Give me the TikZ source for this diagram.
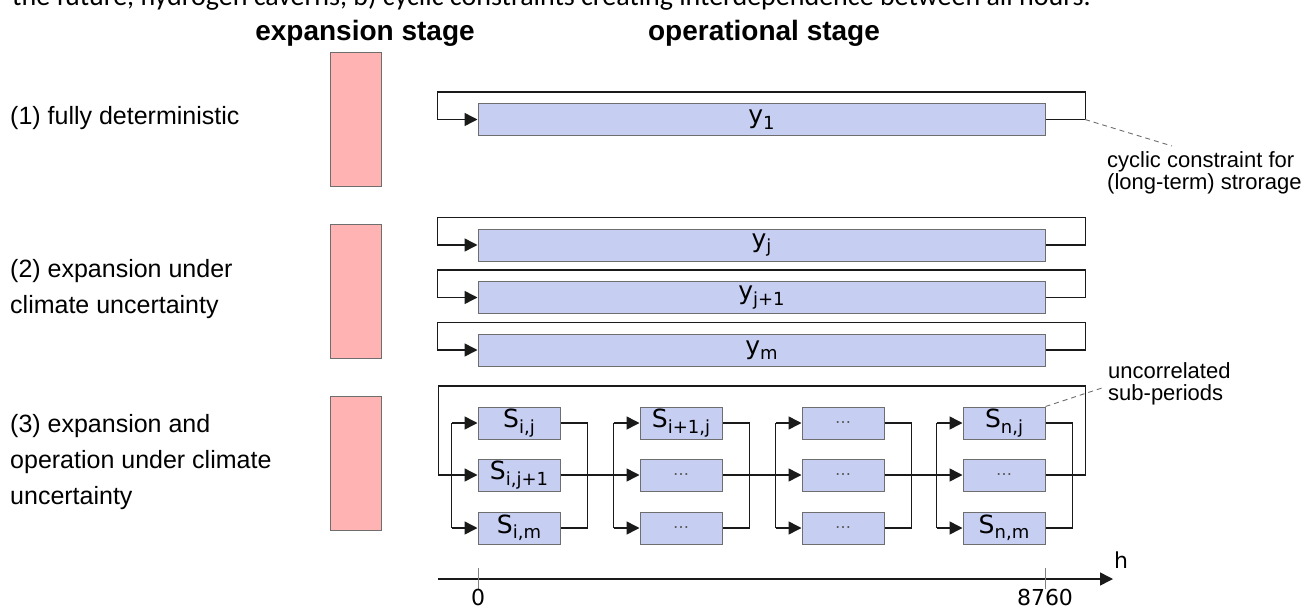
\documentclass[tikz,border=0pt]{standalone}
\usepackage{fontspec}
\setmainfont{Liberation Sans}
\newfontfamily\dejavu{DejaVu Sans}
\newfontfamily\carlito{Carlito}
\usetikzlibrary{arrows.meta,calc}
\definecolor{boxblue}{HTML}{C6CEF2}
\definecolor{boxpink}{HTML}{FFB3B3}
\definecolor{edgegray}{HTML}{6E6E6E}
\definecolor{linedark}{HTML}{1A1A1A}
\newcommand\sbs[1]{\raisebox{-0.22em}{\fontsize{18}{18}\selectfont #1}}
\tikzset{
  bluebox/.style={draw=edgegray, fill=boxblue, line width=1pt, minimum height=32, inner sep=0pt,
    font=\dejavu\fontsize{25}{28}\selectfont},
  sbox/.style={bluebox, minimum width=82},
  longbox/.style={bluebox, minimum width=567},
  pinkbox/.style={draw=edgegray, fill=boxpink, line width=1pt, minimum width=51, minimum height=134, inner sep=0pt},
  conn/.style={draw=linedark, line width=1.5pt},
  arr/.style={conn, -{Triangle[length=13pt,width=13pt]}},
  lbl/.style={anchor=west, align=left, font=\fontsize{25}{36}\selectfont, inner sep=0pt},
  note/.style={anchor=west, align=left, font=\fontsize{22}{22.5}\selectfont, inner sep=0pt},
  ttl/.style={font=\bfseries\fontsize{28}{30}\selectfont, inner sep=0pt},
  dsh/.style={draw=edgegray, dash pattern=on 5pt off 4pt, line width=0.9pt},
  tick/.style={draw=gray, line width=0.8pt},
  ax/.style={font=\dejavu\fontsize{22}{24}\selectfont, inner sep=0pt},
  dots/.style={font=\dejavu\fontsize{16}{16}\selectfont, text=gray!70!black},
  slab/.style={font=\dejavu\fontsize{25}{28}\selectfont}
}
\begin{document}
\begin{tikzpicture}[x=1pt,y=-1pt]
\useasboundingbox (0,0) rectangle (1314,610);
\clip (0,0) rectangle (1314,610);
% cut caption line
\node[anchor=base west, inner sep=0pt, font=\carlito\fontsize{28}{30}\selectfont] (cap) at (12,6)
  {the future, hydrogen caverns, b) cyclic constraints creating interdependence between all hours.};
% titles
\node[ttl] (t1) at (365,33) {expansion stage};
\node[ttl] (t2) at (764,33) {operational stage};
% left labels
\node[lbl] (l1) at (10,118) {(1) fully deterministic};
\node[lbl] (l2) at (10,289) {(2) expansion under\\climate uncertainty};
\node[lbl] (l3) at (10,462) {(3) expansion and\\operation under climate\\uncertainty};
% pink boxes
\node[pinkbox] (p1) at (355.5,119.5) {};
\node[pinkbox] (p2) at (355.5,291.5) {};
\node[pinkbox] (p3) at (355.5,463.5) {};
% long boxes
\node[longbox] (y1) at (761.5,119.5) {y\sbs{1}};
\node[longbox] (yj) at (761.5,245) {y\sbs{j}};
\node[longbox] (yj1) at (761.5,297.5) {y\sbs{j+1}};
\node[longbox] (ym) at (761.5,350) {y\sbs{m}};
\foreach \b in {y1,yj,yj1,ym}{
  \draw[arr] (\b.east) -- ++(40,0) -- ++(0,-27.5) -- ++(-648,0) -- ++(0,27.5) -- (\b.west);
}
% sub-period boxes
\foreach \c/\x in {1/519,2/681,3/843,4/1004}{
  \foreach \r/\y in {1/423,2/475,3/528}{
    \node[sbox] (s\c\r) at (\x,\y) {};
  }
}
\node at (s11) [slab] {S\sbs{i,j}};
\node at (s21) [slab] {S\sbs{i+1,j}};
\node at (s41) [slab] {S\sbs{n,j}};
\node at (s12) [slab] {S\sbs{i,j+1}};
\node at (s13) [slab] {S\sbs{i,m}};
\node at (s43) [slab] {S\sbs{n,m}};
\foreach \n in {s31,s22,s32,s42,s23,s33}{
  \node at (\n) [dots] {\dots};
}
\foreach \c in {1,2,3,4}{
  \draw[conn] ($(s\c1.west)+(-26,0)$) -- ($(s\c3.west)+(-26,0)$);
  \draw[arr] ($(s\c1.west)+(-26,0)$) -- (s\c1.west);
  \draw[arr] ($(s\c3.west)+(-26,0)$) -- (s\c3.west);
  \draw[conn] (s\c1.east) -- ++(27,0) -- ($(s\c3.east)+(27,0)$) -- (s\c3.east);
  \draw[conn] (s\c2.east) -- ++(27,0);
}
\draw[arr] (s12.east) -- (s22.west);
\draw[arr] (s22.east) -- (s32.west);
\draw[arr] (s32.east) -- (s42.west);
\draw[arr] (s42.east) -- ++(40,0) -- ++(0,-89) -- ++(-647,0) -- ++(0,89) -- (s12.west);
% annotations
\coordinate (c1) at (1085,119.5);
\node[note] (n1) at (1107,173) {cyclic constraint for\\(long-term) strorage};
\draw[dsh] (c1) -- (1172,146);
\node[note] (n2) at (1108,384) {uncorrelated\\sub-periods};
\draw[dsh] (s41.north east) -- (1105,387);
% axis
\coordinate (a0) at (438,579);
\coordinate (a1) at (1113,579);
\draw[arr] (a0) -- (a1);
\draw[tick] (478,568) -- (478,589);
\draw[tick] (1045,568) -- (1045,589);
\node[ax] (z0) at (478,597) {0};
\node[ax] (z1) at (1045,597) {8760};
\node[ax, anchor=west] (h) at (1114,560) {h};
\end{tikzpicture}
\end{document}
